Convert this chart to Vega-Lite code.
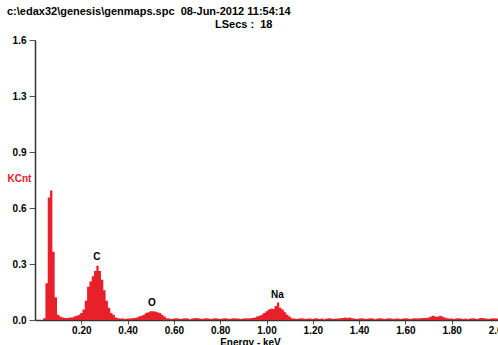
{
  "$schema": "https://vega.github.io/schema/vega-lite/v6.json",
  "width": 463,
  "height": 280,
  "autosize": "none",
  "padding": {"left": 35, "top": 40, "right": 0, "bottom": 25},
  "background": "white",
  "config": {"view": {"stroke": null}, "font": "Liberation Sans"},
  "title": {
    "text": "c:\\edax32\\genesis\\genmaps.spc \u00a008-Jun-2012 11:54:14",
    "anchor": "start", "frame": "group", "dx": -28, "offset": 1,
    "fontSize": 11, "fontWeight": "bold", "color": "black", "font": "Liberation Sans"
  },
  "datasets": {
    "spectrum": [
      {"e":0.03,"c":0},{"e":0.04,"c":0.01},{"e":0.05,"c":0.21},{"e":0.06,"c":0.70},{"e":0.07,"c":0.74},
      {"e":0.08,"c":0.39},{"e":0.09,"c":0.13},{"e":0.10,"c":0.03},{"e":0.11,"c":0.02},{"e":0.12,"c":0.015},
      {"e":0.13,"c":0.012},{"e":0.14,"c":0.012},{"e":0.15,"c":0.015},{"e":0.16,"c":0.015},{"e":0.17,"c":0.02},
      {"e":0.18,"c":0.025},{"e":0.19,"c":0.03},{"e":0.20,"c":0.04},{"e":0.21,"c":0.06},{"e":0.22,"c":0.11},
      {"e":0.23,"c":0.19},{"e":0.24,"c":0.22},{"e":0.25,"c":0.25},{"e":0.26,"c":0.28},{"e":0.27,"c":0.31},
      {"e":0.28,"c":0.28},{"e":0.29,"c":0.23},{"e":0.30,"c":0.17},{"e":0.31,"c":0.11},{"e":0.32,"c":0.07},
      {"e":0.33,"c":0.04},{"e":0.34,"c":0.03},{"e":0.35,"c":0.015},{"e":0.36,"c":0.01},{"e":0.37,"c":0.008},
      {"e":0.38,"c":0.008},{"e":0.39,"c":0.006},{"e":0.40,"c":0.008},{"e":0.41,"c":0.008},{"e":0.42,"c":0.01},
      {"e":0.43,"c":0.012},{"e":0.44,"c":0.015},{"e":0.45,"c":0.02},{"e":0.46,"c":0.025},{"e":0.47,"c":0.03},
      {"e":0.48,"c":0.04},{"e":0.49,"c":0.045},{"e":0.50,"c":0.05},{"e":0.51,"c":0.05},{"e":0.52,"c":0.048},
      {"e":0.53,"c":0.045},{"e":0.54,"c":0.04},{"e":0.55,"c":0.03},{"e":0.56,"c":0.02},{"e":0.57,"c":0.01},
      {"e":0.58,"c":0.008},{"e":0.59,"c":0.006},{"e":0.60,"c":0.008},{"e":0.61,"c":0.01},{"e":0.62,"c":0.008},
      {"e":0.63,"c":0.006},{"e":0.64,"c":0.008},{"e":0.65,"c":0.01},{"e":0.66,"c":0.008},{"e":0.67,"c":0.004},
      {"e":0.68,"c":0.008},{"e":0.69,"c":0.01},{"e":0.70,"c":0.012},{"e":0.71,"c":0.008},{"e":0.72,"c":0.006},
      {"e":0.73,"c":0.008},{"e":0.74,"c":0.01},{"e":0.75,"c":0.008},{"e":0.76,"c":0.006},{"e":0.77,"c":0.008},
      {"e":0.78,"c":0.01},{"e":0.79,"c":0.008},{"e":0.80,"c":0.006},{"e":0.81,"c":0.008},{"e":0.82,"c":0.01},
      {"e":0.83,"c":0.008},{"e":0.84,"c":0.006},{"e":0.85,"c":0.008},{"e":0.86,"c":0.01},{"e":0.87,"c":0.008},
      {"e":0.88,"c":0.008},{"e":0.89,"c":0.006},{"e":0.90,"c":0.008},{"e":0.91,"c":0.01},{"e":0.92,"c":0.008},
      {"e":0.93,"c":0.01},{"e":0.94,"c":0.012},{"e":0.95,"c":0.015},{"e":0.96,"c":0.02},{"e":0.97,"c":0.025},
      {"e":0.98,"c":0.03},{"e":0.99,"c":0.04},{"e":1.00,"c":0.05},{"e":1.01,"c":0.06},{"e":1.02,"c":0.065},
      {"e":1.03,"c":0.065},{"e":1.04,"c":0.08},{"e":1.05,"c":0.10},{"e":1.06,"c":0.07},{"e":1.07,"c":0.06},
      {"e":1.08,"c":0.045},{"e":1.09,"c":0.03},{"e":1.10,"c":0.02},{"e":1.11,"c":0.01},{"e":1.12,"c":0.008},
      {"e":1.13,"c":0.006},{"e":1.14,"c":0.008},{"e":1.15,"c":0.01},{"e":1.16,"c":0.008},{"e":1.17,"c":0.006},
      {"e":1.18,"c":0.008},{"e":1.19,"c":0.008},{"e":1.20,"c":0.006},{"e":1.21,"c":0.01},{"e":1.22,"c":0.008},
      {"e":1.23,"c":0.006},{"e":1.24,"c":0.008},{"e":1.25,"c":0.004},{"e":1.26,"c":0.008},{"e":1.27,"c":0.01},
      {"e":1.28,"c":0.008},{"e":1.29,"c":0.006},{"e":1.30,"c":0.008},{"e":1.31,"c":0.008},{"e":1.32,"c":0.01},
      {"e":1.33,"c":0.012},{"e":1.34,"c":0.014},{"e":1.35,"c":0.012},{"e":1.36,"c":0.014},{"e":1.37,"c":0.01},
      {"e":1.38,"c":0.008},{"e":1.39,"c":0.006},{"e":1.40,"c":0.008},{"e":1.41,"c":0.01},{"e":1.42,"c":0.008},
      {"e":1.43,"c":0.006},{"e":1.44,"c":0.008},{"e":1.45,"c":0.01},{"e":1.46,"c":0.008},{"e":1.47,"c":0.004},
      {"e":1.48,"c":0.008},{"e":1.49,"c":0.01},{"e":1.50,"c":0.008},{"e":1.51,"c":0.006},{"e":1.52,"c":0.008},
      {"e":1.53,"c":0.01},{"e":1.54,"c":0.008},{"e":1.55,"c":0.006},{"e":1.56,"c":0.008},{"e":1.57,"c":0.008},
      {"e":1.58,"c":0.006},{"e":1.59,"c":0.008},{"e":1.60,"c":0.01},{"e":1.61,"c":0.008},{"e":1.62,"c":0.006},
      {"e":1.63,"c":0.008},{"e":1.64,"c":0.01},{"e":1.65,"c":0.008},{"e":1.66,"c":0.01},{"e":1.67,"c":0.01},
      {"e":1.68,"c":0.012},{"e":1.69,"c":0.012},{"e":1.70,"c":0.015},{"e":1.71,"c":0.02},{"e":1.72,"c":0.025},
      {"e":1.73,"c":0.02},{"e":1.74,"c":0.018},{"e":1.75,"c":0.025},{"e":1.76,"c":0.02},{"e":1.77,"c":0.015},
      {"e":1.78,"c":0.01},{"e":1.79,"c":0.008},{"e":1.80,"c":0.008},{"e":1.81,"c":0.006},{"e":1.82,"c":0.008},
      {"e":1.83,"c":0.01},{"e":1.84,"c":0.008},{"e":1.85,"c":0.006},{"e":1.86,"c":0.008},{"e":1.87,"c":0.004},
      {"e":1.88,"c":0.008},{"e":1.89,"c":0.01},{"e":1.90,"c":0.008},{"e":1.91,"c":0.006},{"e":1.92,"c":0.01},
      {"e":1.93,"c":0.012},{"e":1.94,"c":0.01},{"e":1.95,"c":0.008},{"e":1.96,"c":0.006},{"e":1.97,"c":0.008},
      {"e":1.98,"c":0.01},{"e":1.99,"c":0.008},{"e":2.00,"c":0.008}
    ],
    "labels": [
      {"e":0.267,"c":0.36,"t":"C"},
      {"e":0.505,"c":0.10,"t":"O"},
      {"e":1.047,"c":0.145,"t":"Na"}
    ]
  },
  "layer": [
    {
      "data": {"name": "spectrum"},
      "mark": {"type": "area", "interpolate": "step", "color": "#e8202a", "clip": true},
      "encoding": {
        "x": {
          "field": "e", "type": "quantitative",
          "scale": {"domain": [0, 2], "nice": false, "zero": false},
          "axis": {
            "values": [0.2,0.4,0.6,0.8,1.0,1.2,1.4,1.6,1.8,2.0],
            "format": ".2f", "grid": false,
            "labelFont": "Liberation Sans", "labelFontSize": 10, "labelFontWeight": "bold", "labelColor": "black",
            "labelFlush": false, "labelPadding": 1,
            "tickSize": 4, "tickColor": "#555", "domainColor": "#333", "domainWidth": 1.5,
            "title": "Energy - keV", "titleFont": "Liberation Sans", "titleFontSize": 10, "titleFontWeight": "bold",
            "titleColor": "black", "titleX": 215, "titleY": 22, "titleAnchor": "middle", "titleAlign": "center", "titleBaseline": "middle"
          }
        },
        "y": {
          "field": "c", "type": "quantitative",
          "scale": {"domain": [0, 1.6], "nice": false},
          "axis": {
            "values": [0, 0.32, 0.64, 0.96, 1.28, 1.6],
            "labelExpr": "datum.value == 0.96 ? '0.9' : format(datum.value, '.1f')",
            "grid": false,
            "labelFont": "Liberation Sans", "labelFontSize": 10, "labelFontWeight": "bold", "labelColor": "black",
            "labelPadding": 3,
            "tickSize": 6, "tickColor": "#555", "domainColor": "#333", "domainWidth": 1.5,
            "title": "KCnt", "titleAngle": 0, "titleFont": "Liberation Sans", "titleFontSize": 10, "titleFontWeight": "bold",
            "titleColor": "#e8202a", "titleX": -28, "titleY": 138, "titleAlign": "left", "titleBaseline": "middle"
          }
        }
      }
    },
    {
      "data": {"name": "labels"},
      "mark": {"type": "text", "font": "Liberation Sans", "fontSize": 10, "fontWeight": "bold", "color": "black", "baseline": "middle"},
      "encoding": {
        "x": {
          "field": "e", "type": "quantitative",
          "axis": {
            "orient": "top", "labels": false, "ticks": false, "domain": false, "grid": false,
            "title": "LSecs :\u00a0 18", "titleFont": "Liberation Sans", "titleFontSize": 11, "titleFontWeight": "bold",
            "titleColor": "black", "titleX": 237, "titleY": -16, "titleAlign": "right", "titleAnchor": null, "titleBaseline": "middle"
          }
        },
        "y": {"field": "c", "type": "quantitative"},
        "text": {"field": "t"}
      }
    }
  ],
  "resolve": {"axis": {"x": "independent"}}
}
